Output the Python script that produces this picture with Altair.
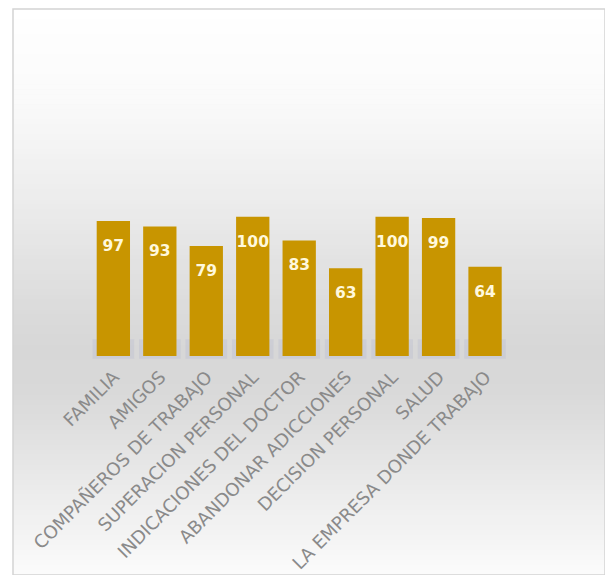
import altair as alt
import pandas as pd

categories = [
    "FAMILIA",
    "AMIGOS",
    "COMPAÑEROS DE TRABAJO",
    "SUPERACION PERSONAL",
    "INDICACIONES DEL DOCTOR",
    "ABANDONAR ADICCIONES",
    "DECISION PERSONAL",
    "SALUD",
    "LA EMPRESA DONDE TRABAJO",
]
values = [97, 93, 79, 100, 83, 63, 100, 99, 64]

df = pd.DataFrame({"cat": categories, "val": values})

W, H = 592, 566
y_domain = [-157.2, 249.1]

# background shading stops: (fraction from top, gray level)
bg_stops = [(0.0, 255), (0.16, 250), (0.34, 236), (0.52, 220), (0.6, 215),
            (0.68, 217), (0.82, 232), (0.93, 244), (1.0, 251)]


def gray_at(f):
    for (f0, g0), (f1, g1) in zip(bg_stops[:-1], bg_stops[1:]):
        if f0 <= f <= f1:
            t = (f - f0) / (f1 - f0)
            return round(g0 + (g1 - g0) * t)
    return bg_stops[-1][1]


n_strips = 113
lo, hi = y_domain
span = hi - lo
strips = []
for i in range(n_strips):
    f0 = i / n_strips
    f1 = (i + 1) / n_strips
    g = gray_at((f0 + f1) / 2)
    strips.append({
        "k": "s%03d" % i,
        "top": hi - f0 * span,
        "bot": max(lo, hi - f1 * span - 0.5),
        "col": "#%02x%02x%02x" % (g, g, g),
    })
bg_df = pd.DataFrame(strips)

yscale = alt.Scale(domain=y_domain, nice=False, zero=False)
xscale = alt.Scale(paddingInner=0.283, paddingOuter=0, range=[83.7, 488.7])

background = alt.Chart(bg_df).mark_rect(strokeWidth=0, opacity=1).encode(
    x=alt.value(0),
    x2=alt.value(W),
    y=alt.Y("top:Q", scale=yscale, axis=None),
    y2="bot:Q",
    fill=alt.Fill(
        "k:N",
        scale=alt.Scale(domain=list(bg_df["k"]), range=list(bg_df["col"])),
        legend=None,
    ),
)

base = alt.Chart(df)

xaxis = alt.Axis(
    title=None,
    labelAngle=-45,
    labelAlign="right",
    labelBaseline="top",
    domain=False,
    ticks=False,
    grid=False,
    labelPadding=12,
    labelOffset=-3,
    labelFontSize=18,
    labelFont="DejaVu Sans",
    labelColor="#8a8a8a",
    labelOverlap=False,
    labelLimit=400,
    offset=-219,
    zindex=1,
)

shadow = base.mark_bar(color="#9aa3c8", opacity=0.18, width={"band": 1.25}).encode(
    x=alt.X("cat:N", sort=None, scale=xscale, axis=xaxis),
    y=alt.Y(datum=-2, type="quantitative", scale=yscale, axis=None),
    y2=alt.datum(12),
)

bars = base.mark_bar(color="#C89500").encode(
    x=alt.X("cat:N", sort=None, scale=xscale, axis=xaxis),
    y=alt.Y("val:Q", scale=yscale, axis=None),
    y2=alt.datum(0),
)

labels = base.mark_text(
    dy=25, color="#fff8dc", fontSize=15.5, fontWeight="bold", font="DejaVu Sans",
    baseline="middle", align="center"
).encode(
    x=alt.X("cat:N", sort=None, scale=xscale, axis=xaxis),
    y=alt.Y("val:Q", scale=yscale, axis=None),
    text=alt.Text("val:Q"),
)

frame = alt.Chart(alt.Data(values=[{"a": 1}])).mark_rect(
    filled=False, color="#d4d4d4", strokeWidth=1.5
).encode(
    x=alt.value(0), x2=alt.value(W), y=alt.value(0), y2=alt.value(H)
)

chart = alt.layer(background, shadow, bars, labels, frame).properties(
    width=W,
    height=H,
    padding={"left": 5, "top": 1, "right": 0, "bottom": 0},
    autosize=alt.AutoSizeParams(type="none"),
    background="#ffffff",
).configure_view(strokeWidth=0, fill="#e9e9e9")

chart.save("out.html", embed_options={"renderer": "svg", "actions": False})
